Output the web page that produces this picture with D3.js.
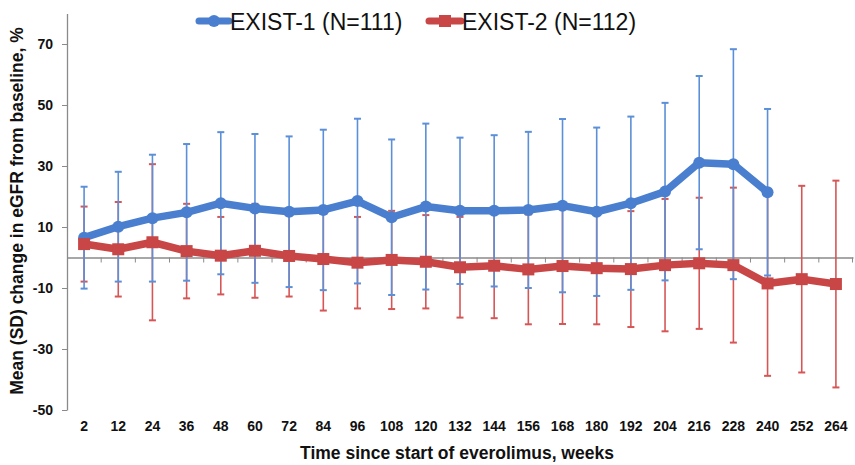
<!DOCTYPE html>
<html>
<head>
<meta charset="utf-8">
<script src="https://cdn.jsdelivr.net/npm/d3@7"></script>
<style>
  body { margin: 0; background: #fff; }
  svg { display: block; font-family: "Liberation Sans", Arial, sans-serif; }
</style>
</head>
<body>
<svg id="chart" width="855" height="465"></svg>
<script>
// ---- data ----
const weeks = ["2","12","24","36","48","60","72","84","96","108","120","132","144","156","168","180","192","204","216","228","240","252","264"];
const exist1Mean = [6.5,10.1,12.9,14.8,17.8,16.1,15.0,15.6,18.5,13.2,16.7,15.3,15.3,15.6,17.0,15.0,17.8,21.6,31.1,30.6,21.4];
const exist1SD   = [16.7,18.0,20.8,22.4,23.3,24.4,24.7,26.3,27.0,25.5,27.2,24.0,24.8,25.6,28.4,27.6,28.4,29.1,28.4,37.7,27.3];
const exist2Mean = [4.4,2.7,5.0,2.1,0.6,2.2,0.5,-0.5,-1.7,-0.8,-1.4,-3.2,-2.7,-3.9,-2.8,-3.5,-3.8,-2.5,-1.9,-2.5,-8.5,-7.1,-8.7];
const exist2SD   = [12.3,15.5,25.6,15.5,12.7,15.4,13.3,16.9,15.0,16.1,15.3,16.5,17.2,18.0,19.0,18.4,19.0,21.7,21.5,25.4,30.3,30.6,33.9];
const yTicks = [70,50,30,10,-10,-30,-50];
const seriesNames = ["EXIST-1 (N=111)", "EXIST-2 (N=112)"];

const blue = "#4a7fcf", blueErr = "#5b8fd8";
const red = "#c94646", redErr = "#d65656";

const svg = d3.select("#chart");
const x = d3.scaleBand().domain(weeks).range([67, 853]);
const y = d3.scaleLinear().domain([-50, 80]).range([410, 13.5]);
const cx = d => x(d) + x.bandwidth() / 2;

// y axis
const yAxis = svg.append("g").attr("transform", "translate(67,0)")
  .call(d3.axisLeft(y).tickValues(yTicks).tickFormat(d => String(d)).tickSize(5).tickSizeOuter(0).tickPadding(9));
yAxis.select(".domain").attr("stroke", "#8a8a8a").attr("stroke-width", 1.3);
yAxis.selectAll(".tick line").attr("stroke", "#8a8a8a");
yAxis.selectAll(".tick text").attr("font-size", 14).attr("font-weight", "bold").attr("fill", "#111")
  .attr("font-family", "Liberation Sans, Arial, sans-serif");

// zero line with boundary ticks
const zero = svg.append("g").attr("transform", `translate(0,${y(0)})`)
  .call(d3.axisBottom(x).tickSize(0).tickFormat(""));
zero.select(".domain").attr("stroke", "#8a8a8a").attr("stroke-width", 1.3);
zero.selectAll(".tick").remove();
zero.selectAll("line.b").data(weeks.slice(1)).enter().append("line")
  .attr("x1", d => x(d)).attr("x2", d => x(d)).attr("y1", 0).attr("y2", 5)
  .attr("stroke", "#8a8a8a");
zero.append("line").attr("x1", x.range()[1] - 0.5).attr("x2", x.range()[1] - 0.5)
  .attr("y1", 0).attr("y2", 5).attr("stroke", "#8a8a8a");

// x tick labels
const xLab = svg.append("g").attr("transform", "translate(0,410)")
  .call(d3.axisBottom(x).tickSize(0).tickPadding(11));
xLab.select(".domain").remove();
xLab.selectAll(".tick text").attr("font-size", 14).attr("font-weight", "bold").attr("fill", "#111")
  .attr("font-family", "Liberation Sans, Arial, sans-serif");

// error bars
function errBars(mean, sd, color) {
  const g = svg.append("g").attr("stroke", color).attr("stroke-width", 1.6);
  mean.forEach((m, i) => {
    const xx = cx(weeks[i]);
    g.append("line").attr("x1", xx).attr("x2", xx).attr("y1", y(m - sd[i])).attr("y2", y(m + sd[i]));
    [m - sd[i], m + sd[i]].forEach(v => {
      g.append("line").attr("x1", xx - 3.5).attr("x2", xx + 3.5).attr("y1", y(v)).attr("y2", y(v)).attr("stroke-width", 2);
    });
  });
}
errBars(exist2Mean, exist2SD, redErr);
errBars(exist1Mean, exist1SD, blueErr);

const line = d3.line().x((d, i) => cx(weeks[i])).y(d => y(d));

// blue series
svg.append("path").datum(exist1Mean).attr("d", line).attr("fill", "none")
  .attr("stroke", blue).attr("stroke-width", 7.5).attr("stroke-linejoin", "round");
svg.selectAll("circle.b").data(exist1Mean).enter().append("circle")
  .attr("cx", (d, i) => cx(weeks[i])).attr("cy", d => y(d)).attr("r", 6).attr("fill", blue);

// red series
svg.append("path").datum(exist2Mean).attr("d", line).attr("fill", "none")
  .attr("stroke", red).attr("stroke-width", 7.5).attr("stroke-linejoin", "round");
svg.selectAll("rect.r").data(exist2Mean).enter().append("rect")
  .attr("x", (d, i) => cx(weeks[i]) - 6).attr("y", d => y(d) - 6)
  .attr("width", 12).attr("height", 12).attr("fill", red);

// legend
const leg = [{ x0: 199, x1: 229, tx: 230, c: blue, shape: "circle", name: seriesNames[0] },
             { x0: 429, x1: 461, tx: 462, c: red, shape: "rect", name: seriesNames[1] }];
leg.forEach(l => {
  svg.append("line").attr("x1", l.x0).attr("x2", l.x1).attr("y1", 21).attr("y2", 21)
    .attr("stroke", l.c).attr("stroke-width", 7).attr("stroke-linecap", "round");
  if (l.shape === "circle") {
    svg.append("circle").attr("cx", (l.x0 + l.x1) / 2).attr("cy", 21).attr("r", 6).attr("fill", l.c);
  } else {
    svg.append("rect").attr("x", (l.x0 + l.x1) / 2 - 6).attr("y", 15).attr("width", 12).attr("height", 12).attr("fill", l.c);
  }
  svg.append("text").attr("x", l.tx).attr("y", 29.5).attr("font-size", 23).attr("fill", "#111")
    .text(l.name);
});

// axis titles
svg.append("text").attr("x", 457).attr("y", 459).attr("text-anchor", "middle")
  .attr("font-size", 17.5).attr("font-weight", "bold").attr("fill", "#111")
  .text("Time since start of everolimus, weeks");
svg.append("text").attr("transform", "translate(23,211) rotate(-90)").attr("text-anchor", "middle")
  .attr("font-size", 17.5).attr("font-weight", "bold").attr("fill", "#111")
  .text("Mean (SD) change in eGFR from baseline, %");
</script>
</body>
</html>
